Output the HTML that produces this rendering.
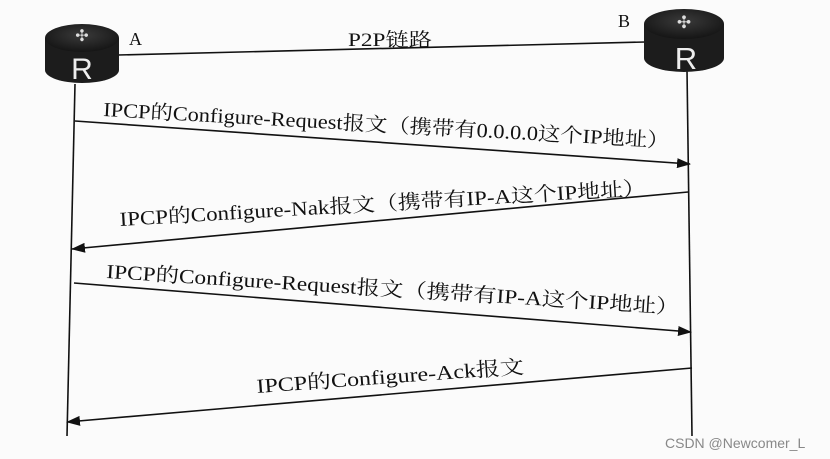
<!DOCTYPE html>
<html><head><meta charset="utf-8"><style>
html,body{margin:0;padding:0;background:#fbfbfb;}
svg{display:block}
text{font-family:"Liberation Serif","Noto Serif CJK SC",serif;fill:#111;}
</style></head><body>
<svg width="830" height="459" viewBox="0 0 830 459">
<defs>
<marker id="ah" markerWidth="14" markerHeight="10" refX="13" refY="5" orient="auto" markerUnits="userSpaceOnUse">
<path d="M0,0 L14,5 L0,10 Z" fill="#111"/></marker>
<radialGradient id="rg" cx="50%" cy="40%" r="60%"><stop offset="0" stop-color="#3a3a3a"/><stop offset="1" stop-color="#151515"/></radialGradient>
</defs>
<g stroke="#111" stroke-width="1.6" fill="none">
<line x1="118" y1="55" x2="645" y2="42"/>
<line x1="75" y1="84" x2="67" y2="436"/>
<line x1="687" y1="70" x2="692" y2="436"/>
<line x1="75" y1="121" x2="690" y2="164" marker-end="url(#ah)"/>
<line x1="688" y1="192" x2="72" y2="249" marker-end="url(#ah)"/>
<line x1="74" y1="283" x2="691" y2="332" marker-end="url(#ah)"/>
<line x1="692" y1="368" x2="67" y2="422" marker-end="url(#ah)"/>
</g>
<g>
<path d="M45,38 L45,70 A37,13 0 0 0 119,70 L119,38 Z" fill="#1c1c1c"/>
<ellipse cx="82" cy="38" rx="37" ry="14" fill="url(#rg)"/>
<text x="82" y="41" font-size="16" text-anchor="middle" style="fill:#ddd">✣</text>
<text x="82" y="79" font-size="30" text-anchor="middle" style="font-family:'Liberation Sans',sans-serif;fill:#eee">R</text>
</g>
<g>
<path d="M644,24 L644,58 A40,14 0 0 0 724,58 L724,24 Z" fill="#1c1c1c"/>
<ellipse cx="684" cy="24" rx="40" ry="15" fill="url(#rg)"/>
<text x="684" y="28" font-size="17" text-anchor="middle" style="fill:#ddd">✣</text>
<text x="686" y="69" font-size="31" text-anchor="middle" style="font-family:'Liberation Sans',sans-serif;fill:#eee">R</text>
</g>
<text x="129" y="45" font-size="18">A</text>
<text x="618" y="27" font-size="18">B</text>
<text x="348" y="46" font-size="19" textLength="84" lengthAdjust="spacingAndGlyphs">P2P链路</text>
<text x="103" y="116" font-size="20" textLength="567" lengthAdjust="spacingAndGlyphs" transform="rotate(3.2 103 116)">IPCP的Configure-Request报文（携带有0.0.0.0这个IP地址）</text>
<text x="120" y="226" font-size="20" textLength="527" lengthAdjust="spacingAndGlyphs" transform="rotate(-3.4 120 226)">IPCP的Configure-Nak报文（携带有IP-A这个IP地址）</text>
<text x="106" y="278" font-size="20" textLength="574" lengthAdjust="spacingAndGlyphs" transform="rotate(3.6 106 278)">IPCP的Configure-Request报文（携带有IP-A这个IP地址）</text>
<text x="257" y="393" font-size="20" textLength="268" lengthAdjust="spacingAndGlyphs" transform="rotate(-4.2 257 393)">IPCP的Configure-Ack报文</text>
<text x="665" y="448" font-size="14" style="font-family:'Liberation Sans',sans-serif;fill:#888">CSDN @Newcomer_L</text>
</svg>
</body></html>
